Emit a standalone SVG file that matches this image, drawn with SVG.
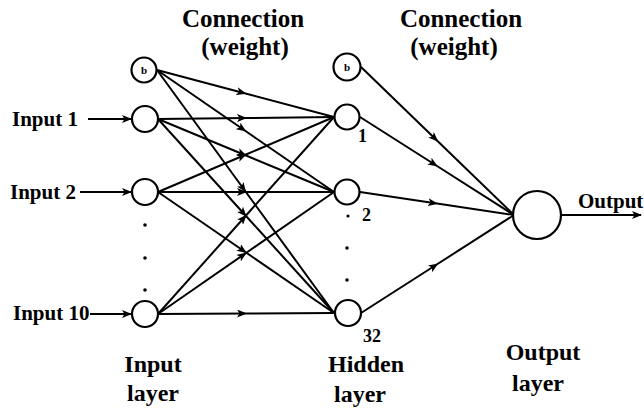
<svg xmlns="http://www.w3.org/2000/svg" width="644" height="408" viewBox="0 0 644 408">
<defs>
<marker id="ah" viewBox="0 0 10 8" refX="9" refY="4" markerWidth="10" markerHeight="8" markerUnits="userSpaceOnUse" orient="auto">
<path d="M0,0 L10,4 L0,8 L2.5,4 Z" fill="#000"/>
</marker>
<style>
.t{font-family:"Liberation Serif","Times New Roman",serif;font-weight:bold;fill:#000}
.h{font-size:25px}
.lab{font-size:21px}
.lay{font-size:24px}
.num{font-size:18px}
.b{font-size:11px}
.n{fill:#fff;stroke:#000;stroke-width:2.2}
.c{fill:none;stroke:#000;stroke-width:2}
.m{marker-mid:url(#ah)}
.e{marker-end:url(#ah)}
.dot{fill:#000}
</style>
</defs>
<rect width="644" height="408" fill="#fff"/>
<g id="labels">
<text class="t h" x="243" y="27" text-anchor="middle">Connection</text>
<text class="t h" x="245" y="55" text-anchor="middle">(weight)</text>
<text class="t h" x="461" y="27" text-anchor="middle">Connection</text>
<text class="t h" x="454" y="55" text-anchor="middle">(weight)</text>
<text class="t lab" x="12" y="126">Input 1</text>
<text class="t lab" x="10" y="199">Input 2</text>
<text class="t lab" x="13" y="320">Input 10</text>
<text class="t lay" x="153" y="372" text-anchor="middle">Input</text>
<text class="t lay" x="153" y="401" text-anchor="middle">layer</text>
<text class="t lay" x="366" y="372" text-anchor="middle">Hidden</text>
<text class="t lay" x="360" y="402" text-anchor="middle">layer</text>
<text class="t lay" x="543" y="360" text-anchor="middle">Output</text>
<text class="t lay" x="538" y="391" text-anchor="middle">layer</text>
<text class="t lab" x="578" y="208">Output</text>
<text class="t num" x="358" y="142">1</text>
<text class="t num" x="362" y="221">2</text>
<text class="t num" x="363" y="342">32</text>
</g>
<g id="connectors">
<path class="c e" d="M88,119 L131,119"/>
<path class="c e" d="M80,192 L131,192"/>
<path class="c e" d="M90,314 L131,314"/>
<path class="c e" d="M562,215 L641,215"/>
<!-- input bias -->
<path class="c m" d="M157,70 L245.5,93.5 L334,117"/>
<path class="c m" d="M157,70 L245.5,131 L334,192"/>
<path class="c m" d="M157,70 L245.5,191.5 L334,313"/>
<!-- input 1 -->
<path class="c m" d="M158,119 L246,118 L334,117"/>
<path class="c m" d="M158,119 L246,155.5 L334,192"/>
<path class="c m" d="M158,119 L246,216 L334,313"/>
<!-- input 2 -->
<path class="c m" d="M158,192 L246,154.5 L334,117"/>
<path class="c m" d="M158,192 L246,192 L334,192"/>
<path class="c m" d="M158,192 L246,252.5 L334,313"/>
<!-- input 10 -->
<path class="c m" d="M158,314 L246,215.5 L334,117"/>
<path class="c m" d="M158,314 L246,253 L334,192"/>
<path class="c m" d="M158,314 L246,313.5 L334,313"/>
<!-- hidden to output -->
<path class="c m" d="M361,67 L437.5,141 L514,215"/>
<path class="c m" d="M360,117 L437,166 L514,215"/>
<path class="c m" d="M360,192 L437,203.5 L514,215"/>
<path class="c m" d="M361,313 L437.5,264 L514,215"/>
</g>
<g id="in-bias"><circle class="n" cx="144" cy="70" r="12.5"/><text class="t b" x="144" y="74" text-anchor="middle">b</text></g>
<g id="in-1"><circle class="n" cx="145" cy="119" r="13"/></g>
<g id="in-2"><circle class="n" cx="145" cy="192" r="13"/></g>
<g id="in-dots"><circle class="dot" cx="145" cy="225" r="1.8"/><circle class="dot" cx="145" cy="258" r="1.8"/><circle class="dot" cx="145" cy="290" r="1.8"/></g>
<g id="in-10"><circle class="n" cx="145" cy="314" r="13"/></g>
<g id="hid-bias"><circle class="n" cx="347" cy="67" r="13.5"/><text class="t b" x="347" y="71" text-anchor="middle">b</text></g>
<g id="hid-1"><circle class="n" cx="347" cy="117" r="12.5"/></g>
<g id="hid-2"><circle class="n" cx="347" cy="192" r="12.5"/></g>
<g id="hid-dots"><circle class="dot" cx="348" cy="216" r="1.6"/><circle class="dot" cx="347" cy="248" r="1.8"/><circle class="dot" cx="347" cy="280" r="1.8"/></g>
<g id="hid-32"><circle class="n" cx="348" cy="313" r="13"/></g>
<g id="out"><circle class="n" cx="537" cy="215" r="24"/></g>
</svg>
